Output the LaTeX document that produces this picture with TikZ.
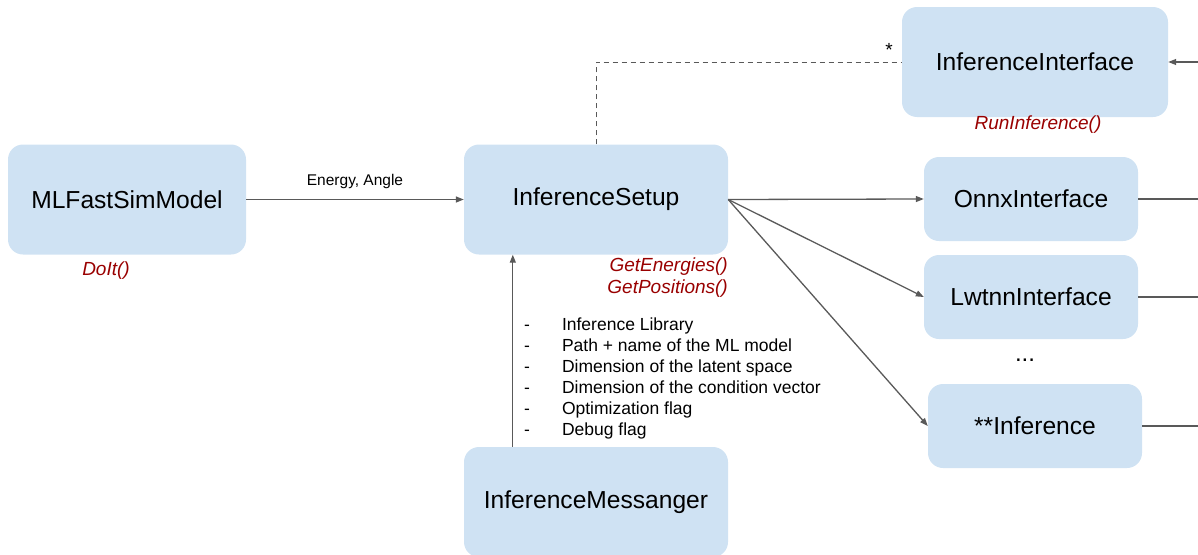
\documentclass[tikz,border=0pt]{standalone}
\usepackage{fontspec}
\setmainfont{Liberation Sans}
\usepackage{tikz}
\usetikzlibrary{arrows.meta}
\usepackage{xcolor}
\definecolor{boxblue}{RGB}{207,226,243}
\definecolor{methodred}{RGB}{153,0,0}
\definecolor{linegray}{RGB}{89,89,89}

\begin{document}
\begin{tikzpicture}[x=1pt, y=-1pt,
    box/.style={fill=boxblue, rounded corners=15pt, inner sep=0pt,
      font=\fontsize{24.6}{28}\selectfont},
    bigbox/.style={box, minimum width=264pt, minimum height=110pt},
    smallbox/.style={box, minimum width=214pt, minimum height=84pt},
    method/.style={text=methodred, font=\fontsize{19}{22}\selectfont\itshape, inner sep=0pt},
    link/.style={draw=linegray, line width=1.3pt},
    arrow/.style={link, -{Triangle[length=8pt, width=6pt]}}]
  \useasboundingbox (0,0) rectangle (1198,554);
  \coordinate (edge) at (1198,0);

  % classes
  \node[bigbox, minimum width=238pt] (model) at (127,199.5) {MLFastSimModel};
  \node[bigbox] (setup) at (596,199.5) {InferenceSetup};
  \node[bigbox, minimum width=266pt] (iface) at (1035,62) {InferenceInterface};
  \node[bigbox] (messenger) at (596,502) {InferenceMessanger};
  \node[smallbox] (onnx) at (1031,199) {OnnxInterface};
  \node[smallbox] (lwtnn) at (1031,297) {LwtnnInterface};
  \node[smallbox] (other) at (1035,426) {**Inference};
  \node[font=\fontsize{24}{28}\selectfont, anchor=base] (dots) at (1025,361) {...};

  % methods
  \node[method] (doit) at (106,271) {DoIt()};
  \node[method, align=right, anchor=east] (getters) at (728,278) {GetEnergies()\\GetPositions()};
  \node[method] (run) at (1038,125) {RunInference()};

  % connectors
  \draw[arrow] (model.east) -- (setup.west)
    node[midway, above=10pt, font=\fontsize{15.5}{18}\selectfont, inner sep=0pt] (inputs) {Energy, Angle};
  \draw[link, dash pattern=on 5pt off 4pt, line width=1pt] (setup.north) |- (iface.west);
  \node[font=\fontsize{19}{22}\selectfont, inner sep=0pt] (mult) at (889,50) {*};
  \draw[arrow] (iface.east -| edge) -- (iface.east);
  \foreach \n in {onnx, lwtnn, other} {
    \draw[arrow] (setup.east) -- (\n.west);
    \draw[link] (\n.east) -- (\n.east -| edge);
  }
  \draw[arrow] ([xshift=49pt]messenger.north west) -- ([xshift=49pt]setup.south west);

  % messenger parameters
  \node[anchor=west, inner sep=0pt, font=\fontsize{17.5}{21}\selectfont] (params) at (524,379) {%
    \begin{tabular}{@{}l@{\hspace{32pt}}l@{}}
      - & Inference Library\\
      - & Path + name of the ML model\\
      - & Dimension of the latent space\\
      - & Dimension of the condition vector\\
      - & Optimization flag\\
      - & Debug flag
    \end{tabular}};
\end{tikzpicture}
\end{document}
